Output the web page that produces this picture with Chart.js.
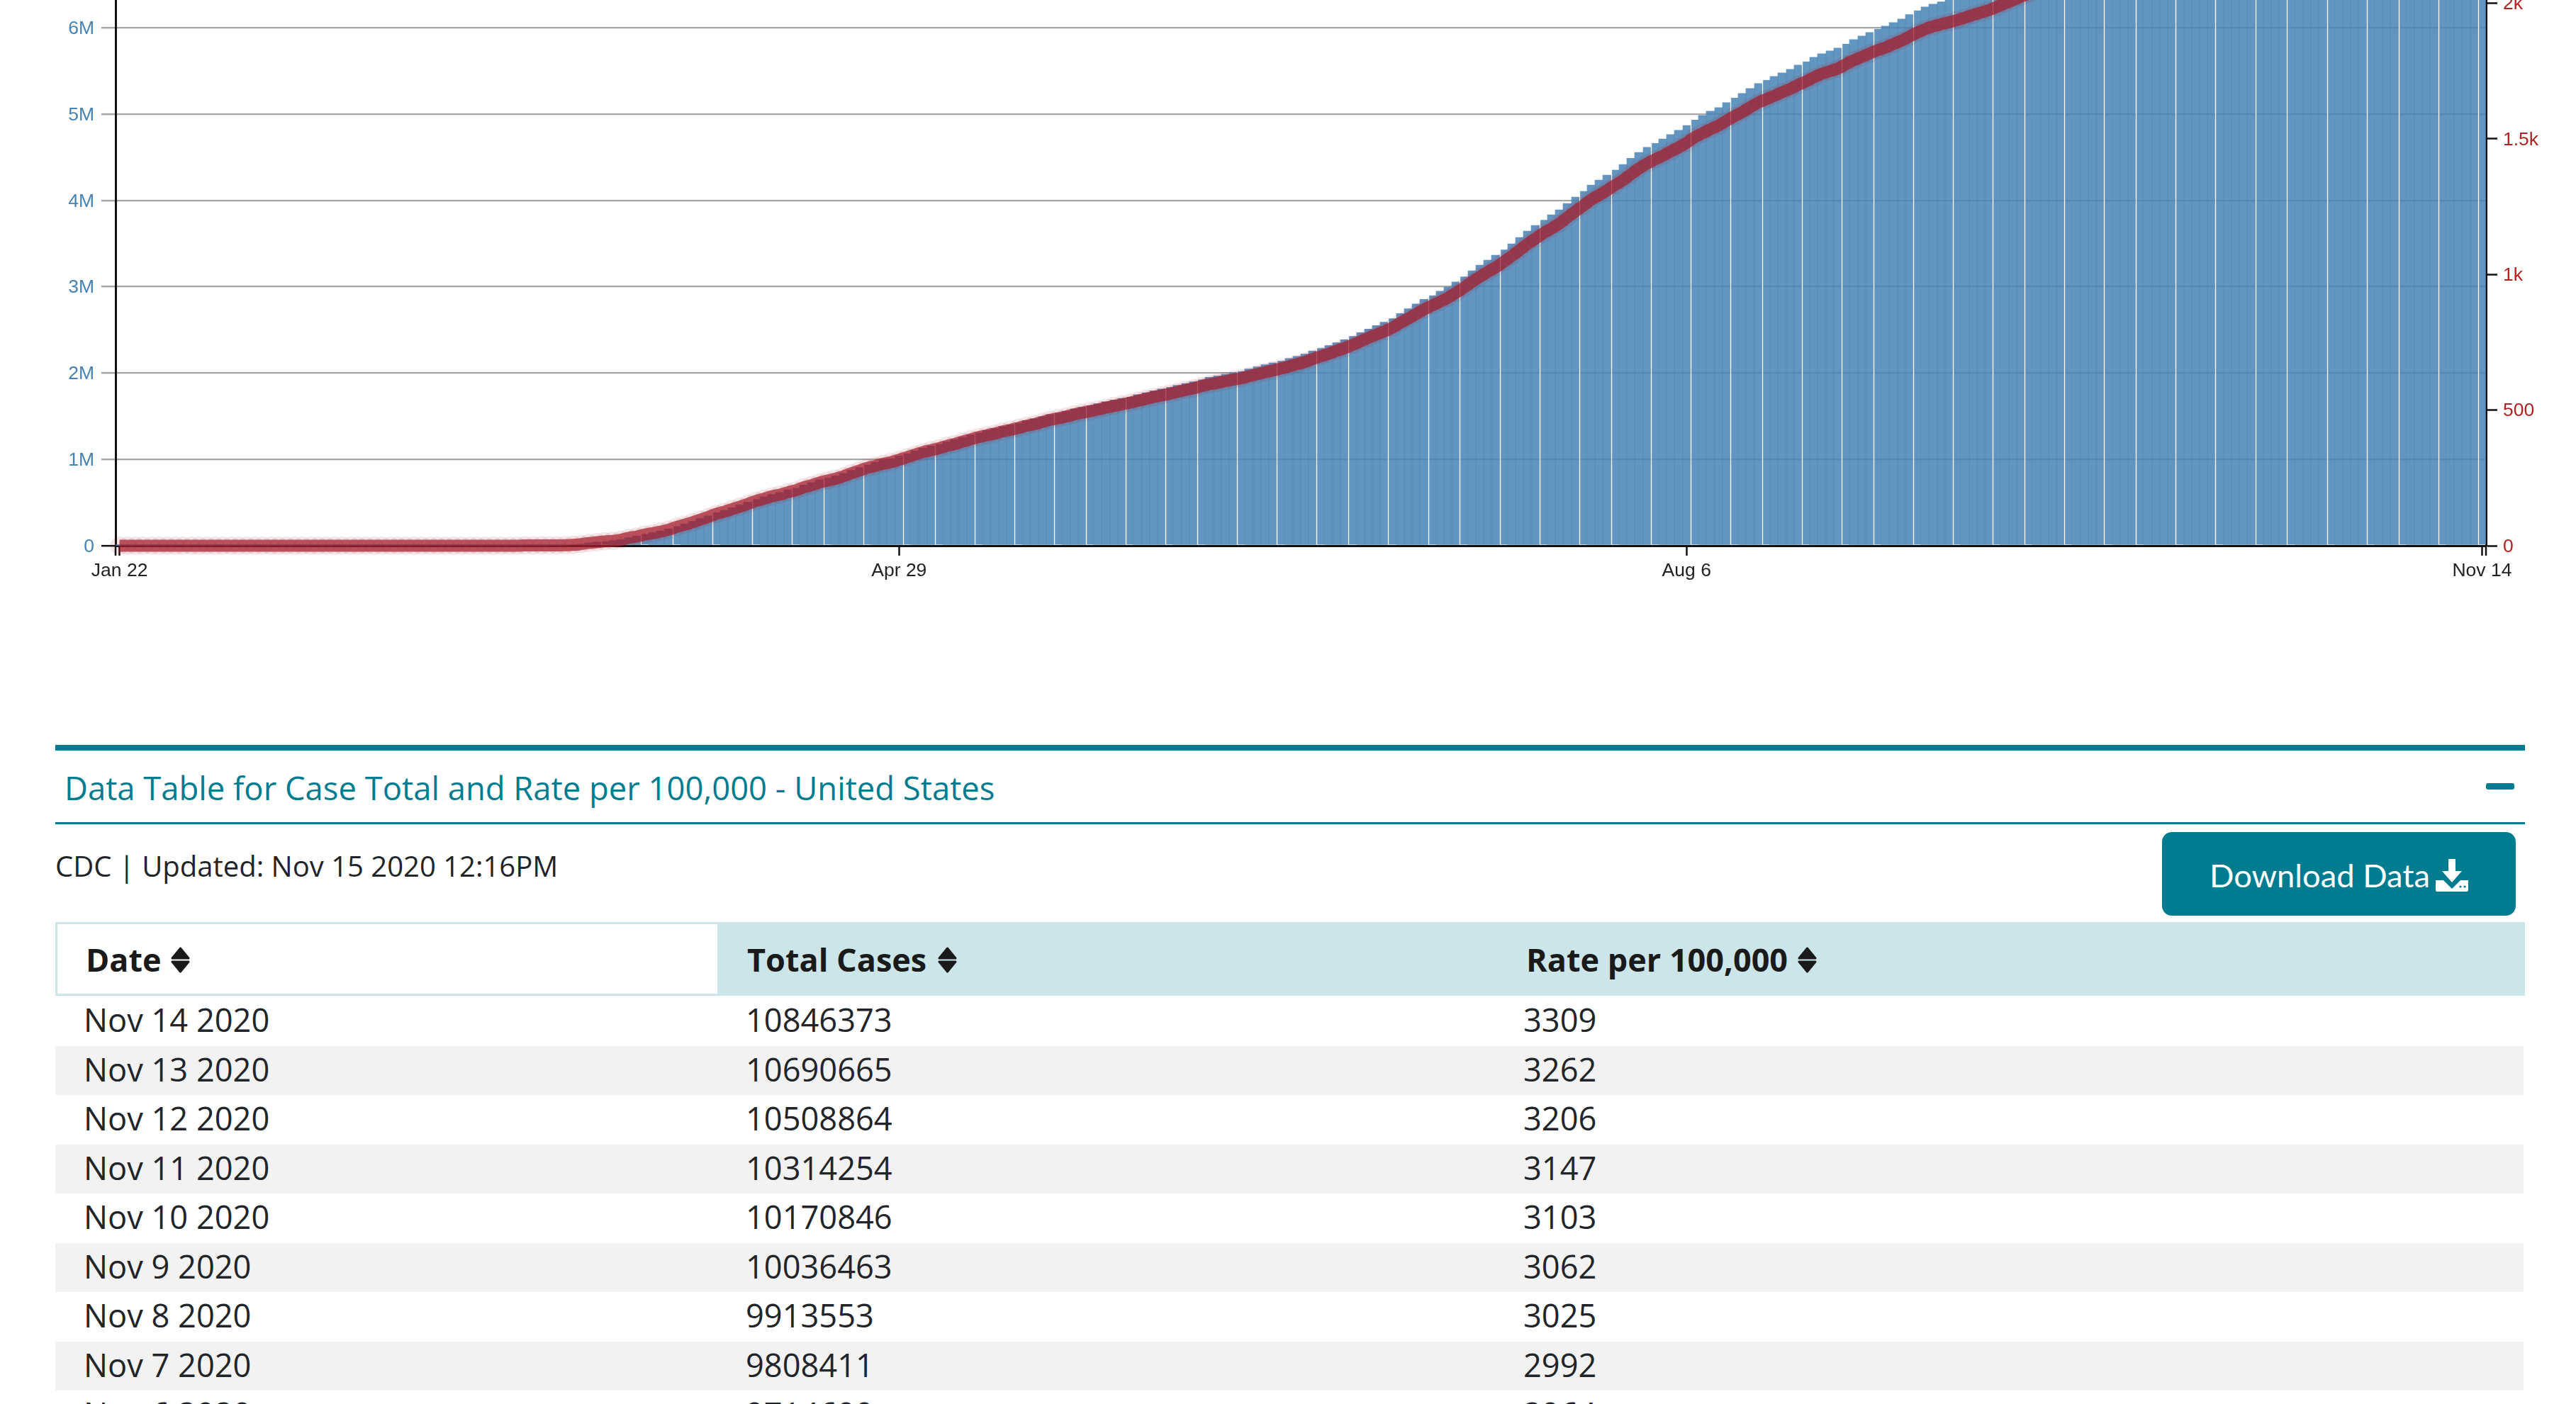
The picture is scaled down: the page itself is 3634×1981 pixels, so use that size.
<!DOCTYPE html>
<html>
<head>
<meta charset="utf-8">
<script src="https://cdn.jsdelivr.net/npm/chart.js@4"></script>
<style>
html,body{margin:0;padding:0;background:#fff;width:3634px;height:1981px;overflow:hidden}
#wrap{position:relative;width:3634px;height:1981px;overflow:hidden;font-family:"Open Sans",sans-serif;color:#212529}
canvas{position:absolute;left:0;top:-600px}
.abs{position:absolute;white-space:nowrap}
.cell{position:absolute;white-space:nowrap;font-size:45.2px;line-height:70px;color:#212529}
.hd{position:absolute;white-space:nowrap;font-size:45px;font-weight:700;line-height:60px;color:#1a1a1a}
</style>
</head>
<body>
<div id="wrap">
  <canvas id="c" width="3634" height="1430"></canvas>

  <div class="abs" style="left:78px;top:1051px;width:3484px;height:8px;background:#007c91"></div>
  <div class="abs" id="title" style="left:91px;top:1079px;font-size:45.4px;line-height:64px;color:#007c91">Data Table for Case Total and Rate per 100,000 - United States</div>
  <div class="abs" style="left:3507px;top:1105px;width:40px;height:9px;border-radius:3px;background:#007c91"></div>
  <div class="abs" style="left:78px;top:1160px;width:3484px;height:3px;background:#007c91"></div>
  <div class="abs" id="updated" style="left:78px;top:1192px;font-size:40px;line-height:60px">CDC | Updated: Nov 15 2020 12:16PM</div>

  <div class="abs" style="left:3050px;top:1174px;width:499px;height:118px;border-radius:14px;background:#007c91"></div>
  <div class="abs" id="dl" style="left:3117px;top:1203px;font-family:Lato,sans-serif;font-size:45.3px;line-height:64px;color:#fff">Download Data</div>
  <svg class="abs" style="left:3436px;top:1211px" width="46" height="47" viewBox="0 0 46 47">
    <path fill="#fff" d="M18 1h10v17h9L23 34 9 18h9z"/>
    <path fill="#fff" d="M0 31h11l12 12 12-12h11v14a2 2 0 0 1-2 2H2a2 2 0 0 1-2-2z"/>
    <circle cx="35" cy="40" r="1.6" fill="#007c91"/><circle cx="41" cy="40" r="1.6" fill="#007c91"/>
  </svg>

  <div class="abs" style="left:78px;top:1301px;width:3484px;height:104px;background:#cce5e9"></div>
  <div class="abs" style="left:81px;top:1304px;width:931px;height:98px;background:#fff"></div>
  <div id="head"></div>
  <div id="rows"></div>
</div>
<script>
// ---------- chart data ----------
const monthLengths = [["Jan",22,31],["Feb",1,29],["Mar",1,31],["Apr",1,30],["May",1,31],["Jun",1,30],["Jul",1,31],["Aug",1,31],["Sep",1,30],["Oct",1,31],["Nov",1,14]];
const categories = [];
monthLengths.forEach(([m,a,b])=>{for(let d=a;d<=b;d++)categories.push(m+" "+d);});

const tickLabels = ["Jan 22","Apr 29","Aug 6","Nov 14"];
const caseTicks = [0,1,2,3,4,5,6,7,8,9,10,11];
const rateTicks = [0,500,1000,1500,2000,2500,3000,3500];

// cumulative cases, millions, one per day
const totalCasesMillions = [
0.000001,0.000001,0.000002,0.000002,0.000005,0.000005,0.000005,0.000005,0.000005,0.000006,
0.000008,0.000008,0.000011,0.000011,0.000011,0.000012,0.000012,0.000012,0.000012,0.000012,
0.000013,0.000013,0.000014,0.000014,0.000015,0.000015,0.000015,0.000015,0.000015,0.000015,
0.000015,0.000015,0.000015,0.000015,0.000015,0.000015,0.000015,0.000016,0.000019,0.000032,
0.000053,0.00008,0.000099,0.00015,0.000219,0.000301,0.000403,0.000537,0.000731,0.001017,
0.001264,0.001678,0.00219,0.002752,0.003562,0.004661,0.006421,0.011,0.019,0.033,
0.042,0.051,0.06,0.072,0.094,0.113,0.135,0.152,0.17,0.195,
0.225,0.253,0.283,0.316,0.346,0.385,0.409,0.441,0.472,0.505,
0.54,0.567,0.595,0.617,0.647,0.669,0.704,0.732,0.765,0.786,
0.811,0.838,0.874,0.907,0.94,0.965,0.99,1.01,1.04,1.068,
1.10,1.13,1.155,1.178,1.205,1.23,1.258,1.285,1.31,1.335,
1.355,1.38,1.40,1.424,1.45,1.47,1.495,1.52,1.54,1.56,
1.585,1.605,1.625,1.645,1.667,1.688,1.707,1.726,1.75,1.772,
1.795,1.815,1.836,1.858,1.88,1.90,1.926,1.95,1.968,1.985,
2.005,2.022,2.048,2.072,2.096,2.118,2.14,2.168,2.194,2.22,
2.255,2.288,2.318,2.352,2.386,2.427,2.468,2.51,2.55,2.59,
2.632,2.69,2.745,2.80,2.855,2.90,2.948,2.995,3.055,3.118,
3.185,3.25,3.307,3.364,3.43,3.496,3.57,3.644,3.71,3.775,
3.832,3.89,3.965,4.038,4.108,4.178,4.235,4.293,4.355,4.416,
4.487,4.556,4.614,4.663,4.712,4.762,4.811,4.868,4.934,4.984,
5.033,5.074,5.132,5.189,5.238,5.296,5.353,5.395,5.436,5.477,
5.518,5.567,5.608,5.658,5.699,5.732,5.764,5.814,5.863,5.904,
5.945,5.986,6.019,6.06,6.101,6.151,6.2,6.241,6.274,6.299,
6.323,6.35,6.38,6.41,6.44,6.47,6.51,6.55,6.59,6.63,
6.67,6.70,6.73,6.77,6.81,6.85,6.90,6.94,6.98,7.04,
7.08,7.12,7.16,7.21,7.26,7.31,7.36,7.40,7.44,7.48,
7.53,7.58,7.64,7.69,7.74,7.79,7.84,7.90,7.96,8.02,
8.08,8.14,8.21,8.28,8.35,8.42,8.50,8.59,8.67,8.75,
8.83,8.91,9.00,9.09,9.19,9.28,9.38,9.49,9.60,9.7146,
9.808411,9.913553,10.036463,10.170846,10.314254,10.508864,10.690665,10.846373];

// rate per 100,000, one per day
const ratePer100k = [
0,0,0,0,0,0,0,0,0,0,
0,0,0,0,0,0,0,0,0,0,
0,0,0,0,0,0,0,0,0,0,
0,0,0,0,0,0,0,0,0,0,
0,0,0,0,0,0,0,0,0,0,
0,1,1,1,1,1,2,3,6,10,
13,16,18,22,29,34,41,46,52,59,
69,77,86,96,106,117,125,135,144,154,
165,173,182,188,197,204,215,223,233,240,
247,256,267,277,287,294,302,308,317,326,
336,345,352,359,368,375,384,392,400,407,
413,421,427,434,442,448,456,464,470,476,
484,490,496,502,509,515,521,527,534,541,
548,554,560,567,574,580,588,595,600,606,
612,617,625,632,639,646,653,661,669,677,
688,698,707,718,728,740,753,766,778,790,
803,821,837,854,871,885,899,914,932,951,
972,991,1009,1026,1046,1067,1089,1112,1132,1152,
1169,1187,1210,1232,1253,1275,1292,1310,1329,1347,
1369,1390,1408,1423,1437,1453,1468,1485,1505,1520,
1535,1548,1566,1583,1598,1616,1633,1646,1658,1671,
1683,1698,1711,1726,1739,1749,1758,1774,1789,1801,
1814,1826,1836,1849,1861,1876,1891,1904,1914,1922,
1929,1937,1946,1956,1965,1974,1986,1998,2010,2023,
2035,2044,2053,2065,2078,2090,2105,2117,2129,2148,
2160,2172,2184,2200,2215,2230,2245,2258,2270,2282,
2297,2312,2331,2346,2361,2377,2392,2410,2428,2447,
2465,2483,2505,2526,2547,2569,2593,2621,2645,2669,
2694,2718,2746,2773,2804,2831,2862,2895,2929,2964,
2992,3025,3062,3103,3147,3206,3262,3309];

// days whose bar shows the thin white seam of the original
const seamDays = [61,66,70,75,80,85,89,94,99,103,108,113,118,122,127,132,136,141,146,151,155,160,165,169,174,179,184,188,193,198,203,207,212,217,221,226,231,236,240,245,250,254,259,264,269,273,278,283,287,292,297];

// ---------- table data ----------
const tableDates  = ["Nov 14 2020","Nov 13 2020","Nov 12 2020","Nov 11 2020","Nov 10 2020","Nov 9 2020","Nov 8 2020","Nov 7 2020","Nov 6 2020"];
const tableTotals = [10846373,10690665,10508864,10314254,10170846,10036463,9913553,9808411,9714699];
const tableRates  = [3309,3262,3206,3147,3103,3062,3025,2992,2964];
const tableHeads  = ["Date","Total Cases","Rate per 100,000"];

// ---------- table ----------
const colX=[118,1052,2149], headX=[121,1054,2153], sortX=[241,1323,2536];
const sortIcon=x=>`<svg class="abs" style="left:${x}px;top:1336px" width="27" height="37" viewBox="0 0 27 37"><path fill="#1a1a1a" stroke="#1a1a1a" stroke-width="3" stroke-linejoin="round" d="M13.5 2 25 16H2zM2 21h23L13.5 35z"/></svg>`;
document.getElementById('head').innerHTML=tableHeads.map((t,i)=>`<div class="hd" style="left:${headX[i]}px;top:1324px">${t}</div>`+sortIcon(sortX[i])).join('');
document.getElementById('rows').innerHTML=tableDates.map((d,i)=>{
  const top=1406+i*69.5;
  const bg=i%2?`<div class="abs" style="left:78px;top:${top}px;width:3482px;height:69.5px;background:#f2f2f2"></div>`:'';
  return bg+[d,tableTotals[i],tableRates[i]].map((t,j)=>`<div class="cell" style="left:${colX[j]}px;top:${top-2}px">${t}</div>`).join('');
}).join('');

// ---------- chart ----------
const FONT={family:'"Liberation Sans",Arial,sans-serif',size:26.5};
const AXIS='#111111', GRID='#a6a6a6';

const snapBars={id:'snapBars',afterDatasetsUpdate(chart){
  const y0=chart.scales.y.getPixelForValue(0);
  chart.getDatasetMeta(0).data.forEach(b=>{
    const l=Math.round(b.x-b.width/2),r=Math.round(b.x+b.width/2);
    b.x=(l+r)/2;b.width=r-l;b.base=y0-1.5;
  });
}};
const domainTicks={id:'domainTicks',afterDraw(chart){
  const s=chart.scales.x,c=chart.ctx;
  c.save();c.strokeStyle=AXIS;c.lineWidth=2.5;
  [s.left,s.right].forEach(px=>{c.beginPath();c.moveTo(px,s.top);c.lineTo(px,s.top+14);c.stroke();});
  c.restore();
}};

new Chart(document.getElementById('c'),{
  type:'bar',
  plugins:[snapBars,domainTicks],
  data:{labels:categories,datasets:[
    {type:'bar',label:'Total Cases',yAxisID:'y',data:totalCasesMillions,order:1,
     barPercentage:1,categoryPercentage:1,
     backgroundColor:'rgba(70,130,180,0.85)',borderColor:'#ffffff',
     borderWidth:c=>seamDays.includes(c.dataIndex)?{left:1.5,right:0,top:0,bottom:0}:0},
    {type:'line',label:'Rate per 100,000',yAxisID:'y1',data:ratePer100k,order:0,clip:false,
     borderColor:'rgba(165,30,45,0.72)',borderWidth:17,borderCapStyle:'butt',borderJoinStyle:'round',
     cubicInterpolationMode:'monotone',pointRadius:13,pointBorderWidth:0,
     pointBackgroundColor:'rgba(165,30,45,0.11)',fill:false}
  ]},
  options:{
    responsive:false,animation:false,devicePixelRatio:1,
    layout:{padding:{top:30,left:0,right:0,bottom:0}},
    plugins:{legend:{display:false},title:{display:false},tooltip:{enabled:false}},
    scales:{
      x:{type:'category',offset:true,
        afterFit(s){s.height=60;},
        afterBuildTicks(s){s.ticks=tickLabels.map(t=>({value:categories.indexOf(t)}));},
        grid:{offset:false,drawOnChartArea:false,tickLength:14,tickColor:AXIS,tickWidth:2.5},
        border:{color:AXIS,width:3},
        ticks:{autoSkip:false,maxRotation:0,minRotation:0,padding:6,color:'#222222',font:FONT,
          callback(v){return this.getLabelForValue(v);}}
      },
      y:{type:'linear',position:'left',min:0,max:11,
        afterFit(s){s.width=163;},
        afterBuildTicks(s){s.ticks=caseTicks.map(v=>({value:v}));},
        grid:{color:GRID,lineWidth:2.3,tickLength:20,tickWidth:2.5,
          tickColor:c=>c.tick.value===0?AXIS:GRID},
        border:{color:AXIS,width:3},
        ticks:{padding:10,labelOffset:1.5,color:'#4682b4',font:FONT,callback:v=>v===0?'0':v+'M'}
      },
      y1:{type:'linear',position:'right',min:0,max:3500,
        afterFit(s){s.width=127;},
        afterBuildTicks(s){s.ticks=rateTicks.map(v=>({value:v}));},
        grid:{drawOnChartArea:false,tickLength:16,tickColor:AXIS,tickWidth:2.5},
        border:{color:AXIS,width:3},
        ticks:{padding:8,labelOffset:1.5,color:'#b22222',font:FONT,callback:v=>v<1000?String(v):(v/1000)+'k'}
      }
    }
  }
});
</script>
</body>
</html>
